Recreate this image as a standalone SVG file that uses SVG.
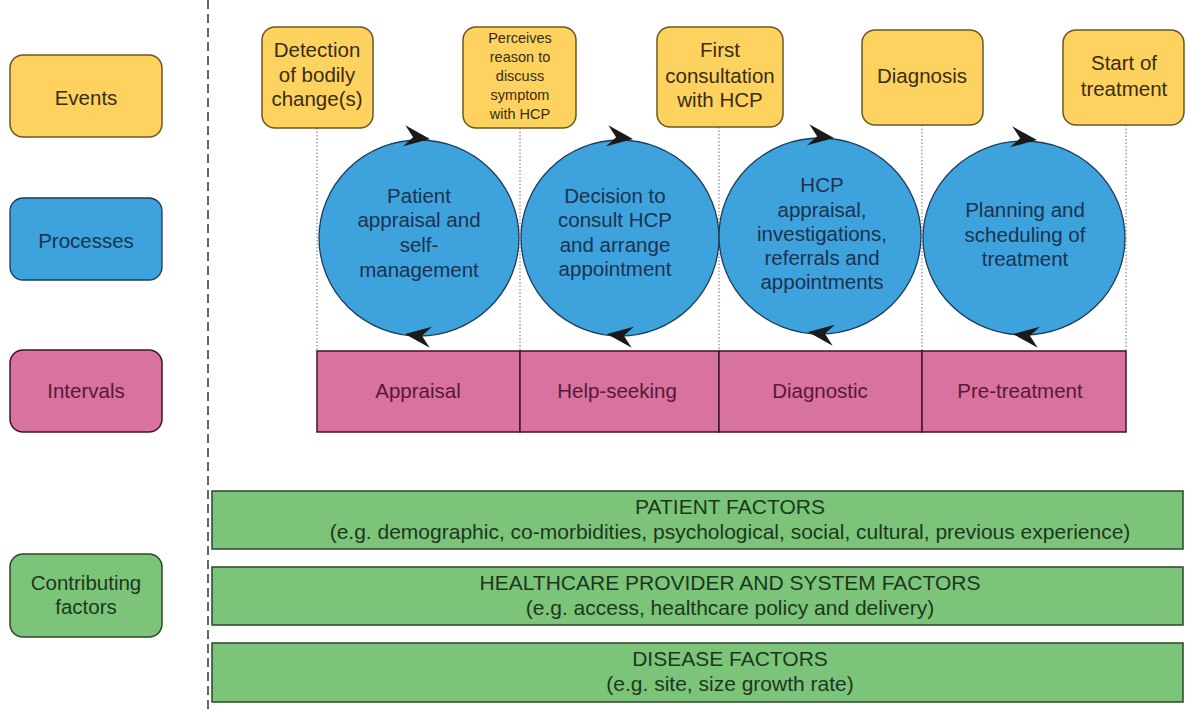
<svg xmlns="http://www.w3.org/2000/svg" xmlns:xlink="http://www.w3.org/1999/xlink" width="1187" height="713" viewBox="0 0 1187 713">
<style>
text{font-family:"Liberation Sans",Arial,sans-serif;text-anchor:middle}
.ev{fill:#fdd25f;stroke:#6b5524;stroke-width:1.5}
.evt{fill:#3a2c10;font-size:20.5px}
.evs{fill:#3a2c10;font-size:14.5px}
.pr{fill:#3ea2dc;stroke:#1d3d5a;stroke-width:1.3}
.prt{fill:#1a3350;font-size:20.5px}
.iv{fill:#d8729e;stroke:#3e1628;stroke-width:1.5}
.ivt{fill:#5a1838;font-size:20.5px}
.gf{fill:#7cc47a;stroke:#2b452b;stroke-width:1.5}
.gft{fill:#1c381c;font-size:21px}
.dot{stroke:#6e6e6e;stroke-width:1;stroke-dasharray:1.5 2;fill:none}
.arr{fill:#1a1a1a}
</style>
<defs>
<path id="ah" d="M0,0 L-26,-11 L-17,0 L-26,10 Z"/>
</defs>
<g id="divider"><line x1="208" y1="0" x2="208" y2="713" stroke="#333" stroke-width="1.5" stroke-dasharray="9 5"/></g>
<g id="legend-events"><rect class="ev" x="10" y="55" width="152" height="82" rx="13"/><text class="evt" x="86" y="105">Events</text></g>
<g id="legend-processes"><rect class="pr" x="10" y="198" width="152" height="82" rx="13"/><text class="prt" x="86" y="248">Processes</text></g>
<g id="legend-intervals"><rect class="iv" x="10" y="350" width="152" height="82" rx="13"/><text class="ivt" x="86" y="398">Intervals</text></g>
<g id="legend-factors"><rect class="gf" x="10" y="554" width="152" height="83" rx="13"/><text class="prt" style="fill:#1c381c" x="86" y="590">Contributing</text><text class="prt" style="fill:#1c381c" x="86" y="614">factors</text></g>
<g id="connectors">
<line class="dot" x1="317" y1="128" x2="317" y2="351"/>
<line class="dot" x1="520" y1="128" x2="520" y2="351"/>
<line class="dot" x1="719" y1="127" x2="719" y2="351"/>
<line class="dot" x1="922" y1="125" x2="922" y2="351"/>
<line class="dot" x1="1126" y1="125" x2="1126" y2="351"/>
</g>
<g id="ev-detection"><rect class="ev" x="262" y="27" width="111" height="101" rx="13"/><text class="evt" x="317" y="57">Detection</text><text class="evt" x="317" y="82">of bodily</text><text class="evt" x="317" y="106">change(s)</text></g>
<g id="ev-perceives"><rect class="ev" x="463" y="27" width="113" height="101" rx="13"/><text class="evs" x="520" y="43">Perceives</text><text class="evs" x="520" y="62">reason to</text><text class="evs" x="520" y="81">discuss</text><text class="evs" x="520" y="100">symptom</text><text class="evs" x="520" y="119">with HCP</text></g>
<g id="ev-first"><rect class="ev" x="657" y="27" width="126" height="100" rx="13"/><text class="evt" x="720" y="57">First</text><text class="evt" x="720" y="83">consultation</text><text class="evt" x="720" y="107">with HCP</text></g>
<g id="ev-diagnosis"><rect class="ev" x="862" y="30" width="121" height="95" rx="13"/><text class="evt" x="922" y="83">Diagnosis</text></g>
<g id="ev-start"><rect class="ev" x="1063" y="30" width="121" height="95" rx="13"/><text class="evt" x="1124" y="70">Start of</text><text class="evt" x="1124" y="96">treatment</text></g>
<g id="pr-patient"><ellipse class="pr" cx="419" cy="238" rx="100" ry="98"/><text class="prt" x="419" y="203">Patient</text><text class="prt" x="419" y="227">appraisal and</text><text class="prt" x="419" y="252">self-</text><text class="prt" x="419" y="277">management</text></g>
<g id="pr-decision"><ellipse class="pr" cx="620" cy="238" rx="99" ry="98"/><text class="prt" x="615" y="203">Decision to</text><text class="prt" x="615" y="227">consult HCP</text><text class="prt" x="615" y="252">and arrange</text><text class="prt" x="615" y="276">appointment</text></g>
<g id="pr-hcp"><ellipse class="pr" cx="820" cy="236" rx="101" ry="98"/><text class="prt" x="822" y="192">HCP</text><text class="prt" x="822" y="217">appraisal,</text><text class="prt" x="822" y="241">investigations,</text><text class="prt" x="822" y="265">referrals and</text><text class="prt" x="822" y="289">appointments</text></g>
<g id="pr-planning"><ellipse class="pr" cx="1024" cy="238" rx="101" ry="97"/><text class="prt" x="1025" y="217">Planning and</text><text class="prt" x="1025" y="242">scheduling of</text><text class="prt" x="1025" y="266">treatment</text></g>
<g id="cycle-arrows" class="arr">
<use xlink:href="#ah" transform="translate(430,139) rotate(6)"/>
<use xlink:href="#ah" transform="translate(405,334) rotate(186)"/>
<use xlink:href="#ah" transform="translate(633,139) rotate(6)"/>
<use xlink:href="#ah" transform="translate(607,334) rotate(186)"/>
<use xlink:href="#ah" transform="translate(834,138) rotate(6)"/>
<use xlink:href="#ah" transform="translate(808,332) rotate(186)"/>
<use xlink:href="#ah" transform="translate(1037,140) rotate(6)"/>
<use xlink:href="#ah" transform="translate(1013,334) rotate(186)"/>
</g>
<g id="iv-appraisal"><rect class="iv" x="317" y="351" width="203" height="81"/><text class="ivt" x="418" y="398">Appraisal</text></g>
<g id="iv-help"><rect class="iv" x="520" y="351" width="199" height="81"/><text class="ivt" x="617" y="398">Help-seeking</text></g>
<g id="iv-diagnostic"><rect class="iv" x="719" y="351" width="203" height="81"/><text class="ivt" x="820" y="398">Diagnostic</text></g>
<g id="iv-pretreatment"><rect class="iv" x="922" y="351" width="204" height="81"/><text class="ivt" x="1020" y="398">Pre-treatment</text></g>
<g id="gf-patient"><rect class="gf" x="212" y="491" width="971" height="58"/><text class="gft" x="730" y="514">PATIENT FACTORS</text><text class="gft" x="730" y="539">(e.g. demographic, co-morbidities, psychological, social, cultural, previous experience)</text></g>
<g id="gf-healthcare"><rect class="gf" x="212" y="567" width="971" height="58"/><text class="gft" x="730" y="590">HEALTHCARE PROVIDER AND SYSTEM FACTORS</text><text class="gft" x="730" y="615">(e.g. access, healthcare policy and delivery)</text></g>
<g id="gf-disease"><rect class="gf" x="212" y="643" width="971" height="59"/><text class="gft" x="730" y="666">DISEASE FACTORS</text><text class="gft" x="730" y="691">(e.g. site, size growth rate)</text></g>
</svg>
